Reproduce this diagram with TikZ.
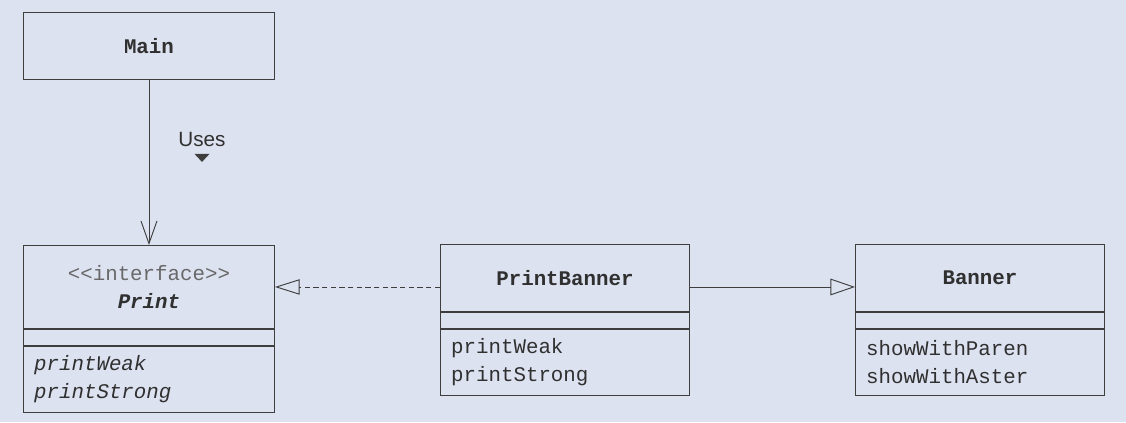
\documentclass[tikz,border=0pt]{standalone}
\usepackage{fontspec}
\setmonofont{Liberation Mono}
\setsansfont{Liberation Sans}
\usetikzlibrary{arrows.meta,positioning,calc}
\definecolor{umlbg}{RGB}{221,226,241}
\definecolor{umlline}{RGB}{62,62,62}
\definecolor{umltext}{RGB}{48,48,48}
\definecolor{umlstereo}{RGB}{105,105,105}
\tikzset{
  classpart/.style={draw=umlline, line width=0.7pt, inner xsep=8pt, inner ysep=0pt,
    minimum width=188.25pt, text width=172.25pt, text=umltext,
    font=\ttfamily\fontsize{15.6}{21}\selectfont},
  narrowclass/.style={minimum width=186.75pt, text width=170.75pt},
  classname/.style={classpart, align=center},
  classgap/.style={classpart, minimum height=12pt},
  classops/.style={classpart, align=left, minimum height=49.5pt},
  usesarrow/.style={draw=umlline, line width=0.7pt, -{Straight Barb[length=17pt,width=12pt]}},
  realizearrow/.style={draw=umlline, line width=0.7pt, dash pattern=on 4pt off 2.5pt,
    -{Triangle[open,length=18.5pt,width=11.5pt,line width=0.7pt]}},
  inheritarrow/.style={draw=umlline, line width=0.7pt,
    -{Triangle[open,length=18.5pt,width=12.5pt,line width=0.7pt]}}
}
\begin{document}
\begin{tikzpicture}[x=0.75pt, y=-0.75pt]
    \fill[umlbg] (0,0) rectangle (1126,422);
    \useasboundingbox (0,0) rectangle (1126,422);
    % client
    \node[classname, minimum height=50.25pt, anchor=north west] (main) at (23,12) {\textbf{Main}};
    % target interface
    \node[classname, minimum height=62.25pt, anchor=north west] (printname) at (23,245)
      {\textcolor{umlstereo}{<<interface>>}\\\textbf{\textit{Print}}};
    \node[classgap, below=0pt of printname] (printattr) {};
    \node[classops, below=0pt of printattr] (printops) {\textit{printWeak}\\\textit{printStrong}};
    % adapter
    \node[classname, narrowclass, minimum height=50.25pt, anchor=north west] (pbname) at (440,244) {\textbf{PrintBanner}};
    \node[classgap, narrowclass, below=0pt of pbname] (pbattr) {};
    \node[classops, narrowclass, below=0pt of pbattr] (pbops) {printWeak\\printStrong};
    % adaptee
    \node[classname, narrowclass, minimum height=50.25pt, anchor=north west] (bannername) at (855,244) {\textbf{Banner}};
    \node[classgap, narrowclass, below=0pt of bannername] (bannerattr) {};
    \node[classops, narrowclass, below=0pt of bannerattr] (bannerops) {showWithParen\\showWithAster};
    % label
    \node[font=\sffamily\fontsize{15.5}{18}\selectfont, text=umltext] (uses) at (202,139) {Uses};
    \fill[umlline] ($(uses.south)+(-7.5,3)$) -- ++(15,0) -- ++(-7.5,8) -- cycle;
    % relations
    \draw[usesarrow] (main.south) -- (printname.north);
    \draw[realizearrow] (pbname.west |- printname.east) -- (printname.east);
    \draw[inheritarrow] (pbname.east |- printname.east) -- (bannername.west |- printname.east);
\end{tikzpicture}
\end{document}
